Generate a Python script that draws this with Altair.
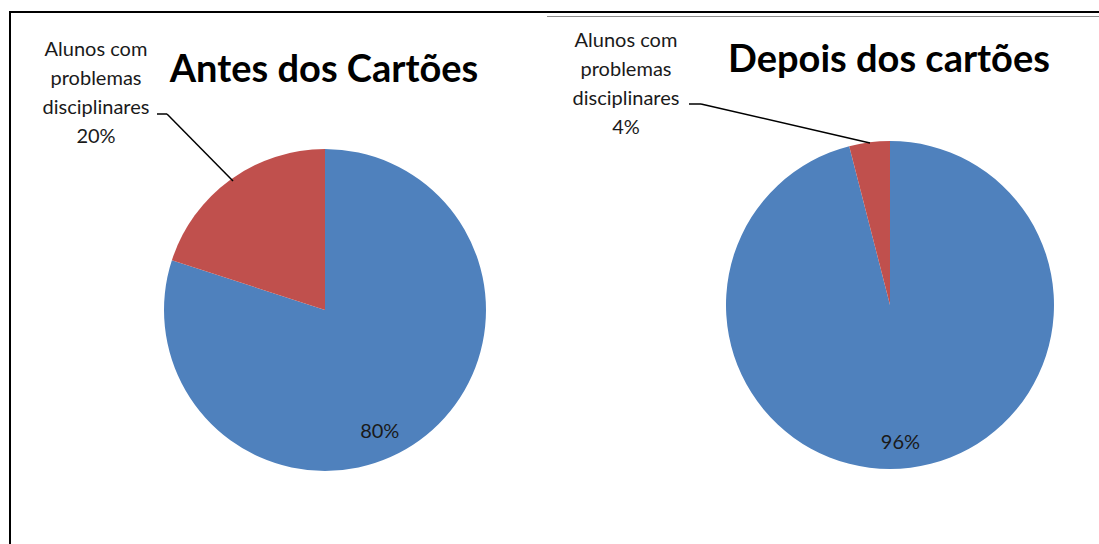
import altair as alt
import pandas as pd

# ---- data ----
panels = ["Antes dos Cartões", "Depois dos cartões"]
categories = ["Alunos sem problemas disciplinares", "Alunos com problemas disciplinares"]
antes_values = [80, 20]
depois_values = [96, 4]
outside_label = "Alunos com\nproblemas\ndisciplinares"

COLORS = ["#4F81BD", "#C0504D"]
FONT = "Lato"


def panel_df(values):
    return pd.DataFrame({
        "category": categories,
        "value": values,
        "order": [0, 1],
        "inner": [f"{values[0]}%", ""],
        "label": ["", f"{outside_label}\n{values[1]}%"],
    })


color = alt.Color("category:N", scale=alt.Scale(domain=categories, range=COLORS), legend=None)


def pie(df, cx, cy, r, lab_r, lab_dx, lab_dy, title, tx, ty, out_x, out_y, leader):
    base = alt.Chart(df)
    arc = base.mark_arc(radius=r).encode(
        theta=alt.Theta("value:Q", stack=True),
        color=color,
        order=alt.Order("order:Q"),
        x=alt.value(cx), y=alt.value(cy),
    )
    inner = base.mark_text(
        radius=lab_r, dx=lab_dx, dy=lab_dy, font=FONT, fontSize=20, color="#1a1a1a"
    ).encode(
        theta=alt.Theta("value:Q", stack=True),
        order=alt.Order("order:Q"),
        text="inner:N",
        x=alt.value(cx), y=alt.value(cy),
    )
    outside = base.transform_filter(alt.datum.order == 1).mark_text(
        font=FONT, fontSize=20, align="center", baseline="top", lineBreak="\n",
        lineHeight=29, color="#1a1a1a"
    ).encode(text="label:N", x=alt.value(out_x), y=alt.value(out_y))
    ttl = base.transform_filter(alt.datum.order == 0).mark_text(
        font=FONT, fontSize=38, fontWeight="bold", align="center", baseline="middle", color="black"
    ).encode(text=alt.value(title), x=alt.value(tx), y=alt.value(ty))
    (x0, y0), (x1, y1), (x2, y2) = leader
    seg1 = base.transform_filter(alt.datum.order == 1).mark_rule(color="black", strokeWidth=1.5).encode(
        x=alt.value(x0), x2=alt.value(x1), y=alt.value(y0), y2=alt.value(y1))
    seg2 = base.transform_filter(alt.datum.order == 1).mark_rule(color="black", strokeWidth=1.5).encode(
        x=alt.value(x1), x2=alt.value(x2), y=alt.value(y1), y2=alt.value(y2))
    return alt.layer(arc, inner, outside, ttl, seg1, seg2).resolve_scale(theta="independent")


left = pie(panel_df(antes_values), 325, 310, 161, 134, -24, 14,
           panels[0], 324, 71, 96, 40,
           [(157, 114), (167, 114), (233, 181)])
right = pie(panel_df(depois_values), 890, 305, 164, 139, -7, 0,
            panels[1], 889, 61, 626, 31,
            [(689, 104), (701, 104), (870, 143)])

frame_df = pd.DataFrame({"k": [0]})
frame = alt.Chart(frame_df)
b1 = frame.mark_rule(color="black", strokeWidth=2).encode(
    x=alt.value(9), x2=alt.value(1099), y=alt.value(12), y2=alt.value(12))
b2 = frame.mark_rule(color="black", strokeWidth=2).encode(
    x=alt.value(10), x2=alt.value(10), y=alt.value(11), y2=alt.value(544))
b3 = frame.mark_rule(color="#8c8c8c", strokeWidth=1).encode(
    x=alt.value(547), x2=alt.value(1099), y=alt.value(16.5), y2=alt.value(16.5))

chart = alt.layer(b1, b2, b3, left, right).resolve_scale(
    theta="independent", color="shared"
).properties(
    width=1099, height=544, padding=0,
    autosize=alt.AutoSizeParams(type="none"),
    background="white",
).configure_view(stroke=None)

chart.save("out.html", embed_options={"renderer": "svg", "actions": False})
